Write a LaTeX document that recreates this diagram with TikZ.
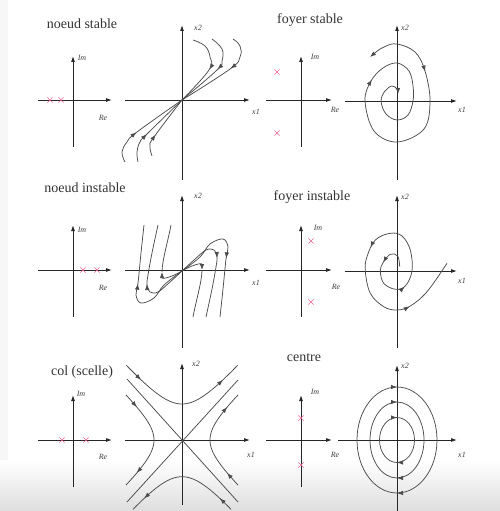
\documentclass[tikz,border=0pt]{standalone}
\usepackage{fontspec}
\setmainfont{Liberation Serif}
\usepackage{xcolor}
\usetikzlibrary{arrows.meta, decorations.markings, shapes.misc}
\definecolor{polered}{RGB}{230,100,140}

\begin{document}
\begin{tikzpicture}[x=1pt, y=-1pt,
  axis/.style={-{Latex[length=6pt,width=4pt]}, line width=0.9pt, black!85},
  traj/.style={line width=0.75pt, black!70},
  tip/.style={-{Latex[length=6pt,width=4.5pt]}},
  flow/.style={postaction={decorate, decoration={markings, mark=at position #1 with {\arrow{Latex[length=6pt,width=4.5pt]}}}}},
  backflow/.style={postaction={decorate, decoration={markings, mark=at position #1 with {\arrowreversed{Latex[length=6pt,width=4.5pt]}}}}},
  title/.style={font=\fontsize{14}{16}\selectfont, text=black!80},
  lab/.style={font=\fontsize{8}{9}\selectfont\itshape, text=black!75},
  pole/.style={cross out, draw=polered, line width=0.6pt, minimum size=4.5pt, inner sep=0pt}]
\useasboundingbox (0,0) rectangle (500,511);
% Background
\fill[black!3] (0,0) rectangle (8,460);
\foreach \i [evaluate=\i as \g using 13*\i/51] in {0,...,50}
  \fill[black!\g] (0,{460+\i}) rectangle (500,{461.2+\i});

% Noeud stable
\node[title] (t1) at (82,24) {noeud stable};
\draw[axis] (73,147) -- (73,56);
\draw[axis] (38,100) -- (112,100);
\node[lab] (im1) at (82,58) {Im};
\node[lab] (re1) at (103,118) {Re};
\node[pole] (p1a) at (50,100) {};
\node[pole] (p1b) at (61,100) {};
\draw[axis] (182,180) -- (182,25);
\draw[axis] (125,100) -- (250,100);
\node[lab] (v1) at (198,28) {x2};
\node[lab] (h1) at (256,112) {x1};
\begin{scope}[shift={(182,100)}]
\draw[traj, flow=0.49] plot[smooth, tension=0.7] coordinates {(11,-60) (23,-54) (28,-43) (27,-30) (0,0)};
\draw[traj, flow=0.44] plot[smooth, tension=0.7] coordinates {(30,-61) (40,-51) (40,-39) (35,-30) (0,0)};
\draw[traj, flow=0.39] plot[smooth, tension=0.7] coordinates {(51,-61) (58,-54) (58,-43) (48,-31) (0,0)};
\draw[traj, flow=0.39] plot[smooth, tension=0.7] coordinates {(-57,62) (-60,52) (-55,42) (-45,32) (0,0)};
\draw[traj, flow=0.39] plot[smooth, tension=0.7] coordinates {(-44,62) (-45,52) (-42,42) (-35,34) (0,0)};
\draw[traj, flow=0.35] plot[smooth, tension=0.7] coordinates {(-30,56) (-32,46) (-28,37) (0,0)};
\end{scope}

% Foyer stable
\node[title] (t2) at (310,20) {foyer stable};
\draw[axis] (301,147) -- (301,56);
\draw[axis] (266,100) -- (332,100);
\node[lab] (im2) at (315,57) {Im};
\node[lab] (re2) at (335,110) {Re};
\node[pole] (p2a) at (277,72) {};
\node[pole] (p2b) at (277,133) {};
\draw[axis] (397,180) -- (397,25);
\draw[axis] (345,101) -- (457,101);
\node[lab] (v2) at (405,28) {x2};
\node[lab] (h2) at (462,110) {x1};
\begin{scope}[shift={(397,101)}]
\draw[traj, {Latex[length=6pt,width=4.5pt]}-{Latex[length=6pt,width=4.5pt]}, flow=0.18, flow=0.6] plot[smooth, tension=0.6] coordinates {(-27,-44) (-13,-54) (0,-57) (18,-49) (28,-30) (33,0) (27,28) (0,41) (-23,30) (-32,0) (-26,-20) (-14,-33) (0,-38) (12,-30) (16,-15) (16,0) (11,14) (0,19) (-11,13) (-16,0) (-12,-10) (-5,-15) (0,-12) (1,-7)};
\end{scope}

% Noeud instable
\node[title] (t3) at (85,188) {noeud instable};
\draw[axis] (73,317) -- (73,225);
\draw[axis] (38,270) -- (112,270);
\node[lab] (im3) at (82,230) {Im};
\node[lab] (re3) at (103,288) {Re};
\node[pole] (p3a) at (83,270) {};
\node[pole] (p3b) at (97,270) {};
\draw[axis] (182,348) -- (182,195);
\draw[axis] (125,270) -- (250,270);
\node[lab] (v3) at (198,196) {x2};
\node[lab] (h3) at (256,283) {x1};
\begin{scope}[shift={(182,271)}]
\draw[traj, flow=0.56] plot[smooth, tension=0.6] coordinates {(0,0) (-18,14) (-28,27) (-41,32) (-46,24) (-44,12) (-41,-18) (-38,-46)};
\draw[traj, flow=0.45] plot[smooth, tension=0.6] coordinates {(0,0) (-12,11) (-24,21) (-32,21) (-35,14) (-34,4) (-30,-18) (-24,-46)};
\draw[traj, tip] (0,0) .. controls (-8,5) and (-20,9) .. (-20,1);
\draw[traj] (-20,1) .. controls (-20,-10) and (-14,-30) .. (-11,-46);
\draw[traj, flow=0.56] plot[smooth, tension=0.6] coordinates {(0,0) (18,-14) (28,-27) (41,-32) (46,-24) (44,-12) (41,18) (38,46)};
\draw[traj, flow=0.45] plot[smooth, tension=0.6] coordinates {(0,0) (12,-11) (24,-21) (32,-21) (35,-14) (34,-4) (30,18) (24,46)};
\draw[traj, tip] (0,0) .. controls (8,-5) and (20,-9) .. (20,-1);
\draw[traj] (20,-1) .. controls (20,10) and (14,30) .. (11,46);
\end{scope}

% Foyer instable
\node[title] (t4) at (312,197) {foyer instable};
\draw[axis] (301,317) -- (301,225);
\draw[axis] (266,270) -- (332,270);
\node[lab] (im4) at (318,228) {Im};
\node[lab] (re4) at (336,287) {Re};
\node[pole] (p4a) at (311,241) {};
\node[pole] (p4b) at (311,302) {};
\draw[axis] (397,348) -- (397,195);
\draw[axis] (345,271) -- (457,271);
\node[lab] (v4) at (405,197) {x2};
\node[lab] (h4) at (462,281) {x1};
\begin{scope}[shift={(397,271)}]
\draw[traj, flow=0.094, flow=0.236, flow=0.527, flow=0.82] plot[smooth, tension=0.6] coordinates {(2.7,-4.3) (0.7,-15) (-6.7,-16.7) (-14,-8.3) (-16.7,0) (-13.3,12.3) (-1.7,18.3) (8.3,15) (15,0) (13.3,-21) (5,-35) (-6.7,-37.7) (-21.7,-31) (-30,-14.3) (-31.7,0) (-26.7,22.3) (-13.3,35.7) (0,39) (13.3,35) (30,20.7) (50,-7.7)};
\end{scope}

% Col (scelle)
\node[title] (t5) at (82,372) {col (scelle)};
\draw[axis] (73,487) -- (73,395);
\draw[axis] (38,440) -- (112,440);
\node[lab] (im5) at (81,394) {Im};
\node[lab] (re5) at (103,457) {Re};
\node[pole] (p5a) at (62,440) {};
\node[pole] (p5b) at (86,440) {};
\draw[axis] (182,505) -- (182,363);
\draw[axis] (125,440) -- (250,440);
\node[lab] (v5) at (196,364) {x2};
\node[lab] (h5) at (251,455) {x1};
\begin{scope}[shift={(182,440)}]
\draw[traj] (-55,-61) -- (56,62);
\draw[traj] (56,-60) -- (-55,62);
\draw[traj, flow=0.15, flow=0.85] plot[domain=-1.36:1.36, samples=40] ({30.6*sinh(\x)}, {-36*cosh(\x)});
\draw[traj, backflow=0.13, backflow=0.87] plot[domain=-1.25:1.25, samples=40] ({30.6*sinh(\x)}, {36.7*cosh(\x)});
\draw[traj, flow=0.15, flow=0.85] plot[domain=-1.317:1.317, samples=40] ({-28*cosh(\x)}, {26*sinh(\x)});
\draw[traj, backflow=0.15, backflow=0.85] plot[domain=-1.317:1.317, samples=40] ({28*cosh(\x)}, {26*sinh(\x)});
\end{scope}

% Centre
\node[title] (t6) at (304,358) {centre};
\draw[axis] (301,487) -- (301,395);
\draw[axis] (266,440) -- (332,440);
\node[lab] (im6) at (315,392) {Im};
\node[lab] (re6) at (335,455) {Re};
\node[pole] (p6a) at (301,418) {};
\node[pole] (p6b) at (301,465) {};
\draw[axis] (397,511) -- (397,365);
\draw[axis] (338,440) -- (457,440);
\node[lab] (v6) at (405,366) {x2};
\node[lab] (h6) at (462,455) {x1};
\begin{scope}[shift={(397,440)}]
\draw[traj, flow=0.25, flow=0.75] (0,0) ellipse [x radius=40, y radius=53];
\draw[traj, flow=0.25, flow=0.75] (0,0) ellipse [x radius=27, y radius=38];
\draw[traj, flow=0.25, flow=0.75] (0,0) ellipse [x radius=17.5, y radius=22.5];
\end{scope}
\end{tikzpicture}
\end{document}
